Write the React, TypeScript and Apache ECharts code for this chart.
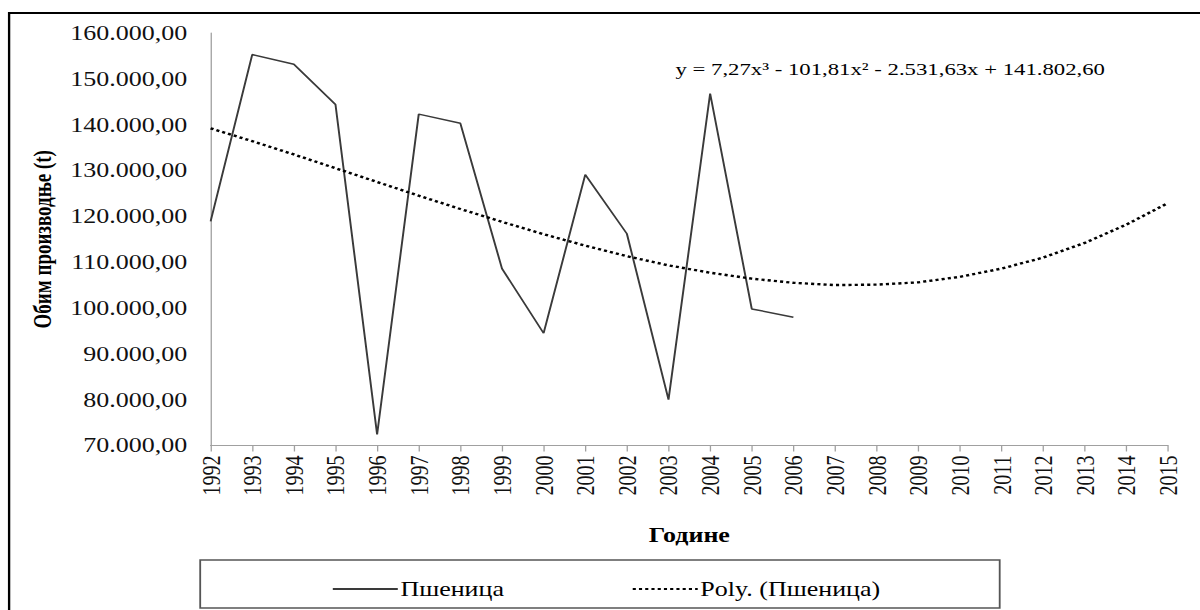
import React, { useEffect, useRef } from "react";
import * as echarts from "echarts";

const years = [
  "1992", "1993", "1994", "1995", "1996", "1997", "1998", "1999", "2000", "2001", "2002", "2003",
  "2004", "2005", "2006", "2007", "2008", "2009", "2010", "2011", "2012", "2013", "2014", "2015",
];

const wheat = [
  118900, 155300, 153200, 144400, 72400, 142300, 140300, 108600, 94500, 129100, 116200, 80000,
  146800, 99800, 98000,
];

const trend = [
  139200, 136400, 133500, 130500, 127500, 124500, 121600, 118800, 116100, 113600, 111300, 109300,
  107700, 106400, 105500, 105000, 105100, 105600, 106800, 108600, 111000, 114200, 118200, 122900,
];

const seriesNames = ["Пшеница", "Poly. (Пшеница)"];
const yName = "Обим производње (t)";
const xName = "Године";
const equation = "y = 7,27x³ - 101,81x² - 2.531,63x + 141.802,60";

const SX = 1.3;
const W = 1200 / SX;
const H = 610;
const FONT = '"Liberation Serif", "Times New Roman", serif';

function fmt(v: number): string {
  const s = Math.round(v).toString();
  return s.replace(/\B(?=(\d{3})+(?!\d))/g, ".") + ",00";
}

export default function App() {
  const ref = useRef<HTMLDivElement>(null);
  useEffect(() => {
    if (!ref.current) return;
    const chart = echarts.init(ref.current, null, { renderer: "svg", width: W, height: H });
    chart.setOption({
      animation: false,
      backgroundColor: "#fff",
      grid: { left: 162, right: W - 898.5, top: 33, bottom: H - 445.5, containLabel: false },
      legend: {
        left: 250,
        top: 574,
        itemWidth: 50,
        itemHeight: 14,
        itemGap: 98,
        itemStyle: { opacity: 0 },
        textStyle: { fontSize: 20, fontFamily: FONT, color: "#000", padding: [0, 0, 0, -3] },
        data: seriesNames,
      },
      xAxis: {
        type: "category",
        data: years,
        boundaryGap: false,
        axisLine: { show: true, lineStyle: { color: "#a0a0a0", width: 1 } },
        axisTick: { show: true, length: 6, interval: 0, lineStyle: { color: "#a0a0a0" } },
        axisLabel: { rotate: 90, fontSize: 20, fontFamily: FONT, color: "#111", margin: 10, interval: 0 },
        splitLine: { show: false },
        name: xName,
        nameLocation: "middle",
        nameGap: 80,
        nameTextStyle: { fontSize: 20, fontWeight: "bold", fontFamily: FONT, color: "#000" },
      },
      yAxis: {
        type: "value",
        min: 70000,
        max: 160000,
        interval: 10000,
        axisLine: { show: true, lineStyle: { color: "#a0a0a0", width: 1 } },
        axisTick: { show: false },
        splitLine: { show: false },
        axisLabel: { formatter: fmt, fontSize: 20, fontFamily: FONT, color: "#111", margin: 18 },
        name: yName,
        nameLocation: "middle",
        nameGap: 120,
        nameTextStyle: { fontSize: 19, fontWeight: "bold", fontFamily: FONT, color: "#000" },
      },
      series: [
        {
          name: seriesNames[0],
          type: "line",
          data: wheat,
          symbol: "none",
          lineStyle: { color: "#3a3a3a", width: 1.5 },
          itemStyle: { color: "#3a3a3a" },
        },
        {
          name: seriesNames[1],
          type: "line",
          data: trend,
          symbol: "none",
          lineStyle: { color: "#000", width: 2.4, type: [2.4, 2.4] },
          itemStyle: { color: "#000" },
        },
      ],
      graphic: [
        {
          type: "rect",
          shape: { x: 7, y: 13, width: 1100, height: 700 },
          style: { fill: "none", stroke: "#000", lineWidth: 1.8 },
          silent: true,
        },
        {
          type: "rect",
          shape: { x: 154, y: 560, width: 615, height: 48 },
          style: { fill: "none", stroke: "#555", lineWidth: 1.4 },
          silent: true,
        },
        {
          type: "text",
          style: {
            text: equation,
            x: 850,
            y: 69,
            align: "right",
            verticalAlign: "middle",
            font: '17.5px "Liberation Serif", "Times New Roman", serif',
            fill: "#000",
          },
          silent: true,
        },
      ],
    });
    return () => chart.dispose();
  }, []);
  return (
    <div
      style={{
        position: "absolute",
        left: 0,
        top: 0,
        width: 1200,
        height: H,
        overflow: "hidden",
        background: "#fff",
      }}
    >
      <div
        ref={ref}
        style={{ width: W, height: H, transform: `scaleX(${SX})`, transformOrigin: "0 0" }}
      />
    </div>
  );
}
